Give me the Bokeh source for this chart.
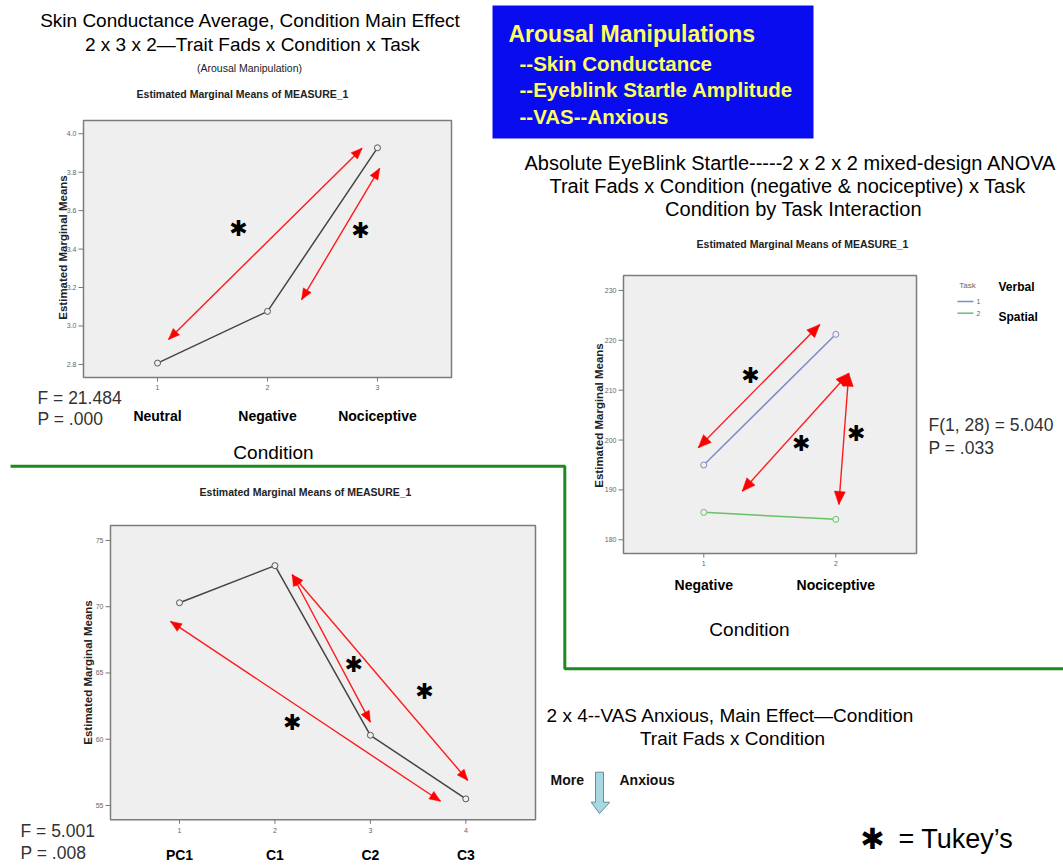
import math
from bokeh.plotting import figure
from bokeh.models import Range1d
from bokeh.core.properties import value
from bokeh.embed import file_html
from bokeh.resources import INLINE

# ---------------- data ----------------
sc_conditions = ["Neutral", "Negative", "Nociceptive"]
sc_x = [1, 2, 3]
sc_means = [2.807, 3.076, 3.927]
sc_yticks = [2.8, 3.0, 3.2, 3.4, 3.6, 3.8, 4.0]
sc_stats = ["F = 21.484", "P = .000"]

eb_conditions = ["Negative", "Nociceptive"]
eb_x = [1, 2]
eb_verbal = [195.0, 221.2]
eb_spatial = [185.5, 184.1]
eb_yticks = [180, 190, 200, 210, 220, 230]
eb_tasks = ["Verbal", "Spatial"]
eb_stats = ["F(1, 28) = 5.040", "P = .033"]

vas_conditions = ["PC1", "C1", "C2", "C3"]
vas_x = [1, 2, 3, 4]
vas_means = [70.3, 73.1, 60.3, 55.5]
vas_yticks = [55, 60, 65, 70, 75]
vas_stats = ["F = 5.001", "P = .008"]

# Tukey comparison arrows (data coordinates of each chart)
sc_arrows = [(1.10, 2.93, 2.86, 3.925), (2.31, 3.137, 3.02, 3.82)]
sc_stars = [(1.736, 3.508), (2.845, 3.497)]
eb_arrows = [(0.958, 198.45, 1.879, 223.17), (1.291, 189.75, 2.098, 213.4), (2.098, 213.4, 2.023, 187.08)]
eb_stars = [(1.354, 212.9), (1.738, 199.25), (2.155, 201.26)]
vas_arrows = [(0.906, 68.89, 3.735, 55.32), (2.181, 72.41, 3.0, 61.29), (2.181, 72.41, 4.021, 56.89)]
vas_stars = [(2.826, 65.64), (3.567, 63.63), (2.181, 61.24)]

SANS = value("Liberation Sans")
STAR = value("DejaVu Sans")

p = figure(width=1063, height=867, x_range=Range1d(0, 1063), y_range=Range1d(867, 0),
           output_backend="svg", toolbar_location=None, min_border=0,
           x_axis_location=None, y_axis_location=None)
p.grid.visible = False
p.outline_line_color = None
p.background_fill_color = "white"
p.border_fill_color = "white"


def spss_chart(frame, xr, yr, xticks, yticks, ylabels, tick_gap):
    l, r, b, t = frame
    sub = p.subplot(x_source=Range1d(*xr), y_source=Range1d(*yr),
                    x_target=Range1d(l, r), y_target=Range1d(b, t))
    ppx = (r - l) / (xr[1] - xr[0])
    ppy = (b - t) / (yr[1] - yr[0])
    sub.quad(left=[xr[0]], right=[xr[1]], bottom=[yr[0]], top=[yr[1]],
             fill_color="#efefef", line_color="#7c7c7c", line_width=1.5)
    n = len(yticks)
    sub.segment(x0=[xr[0] - 5 / ppx] * n, y0=yticks, x1=[xr[0]] * n, y1=yticks,
                line_color="#777", line_width=1)
    sub.text(x=[xr[0]] * n, y=yticks, text=ylabels, x_offset=-7,
             text_align="right", text_baseline="middle", text_font=SANS,
             text_font_size="7px", text_color="#666")
    m = len(xticks)
    sub.segment(x0=xticks, y0=[yr[0]] * m, x1=xticks, y1=[yr[0] - 4 / ppy] * m,
                line_color="#777", line_width=1)
    sub.text(x=xticks, y=[yr[0]] * m, text=[str(v) for v in xticks], y_offset=tick_gap,
             text_align="center", text_baseline="middle", text_font=SANS,
             text_font_size="7px", text_color="#666")
    return sub, ppx, ppy


def arrowhead(ppx, ppy, tip, tail, L, Wd):
    dx = (tip[0] - tail[0]) * ppx
    dy = (tip[1] - tail[1]) * ppy
    nrm = math.hypot(dx, dy)
    ux, uy = dx / nrm, dy / nrm
    px, py = -uy, ux
    bx, by = -ux * L, -uy * L
    xs = [tip[0], tip[0] + (bx + px * Wd) / ppx, tip[0] + (bx - px * Wd) / ppx]
    ys = [tip[1], tip[1] + (by + py * Wd) / ppy, tip[1] + (by - py * Wd) / ppy]
    return xs, ys


def tukey(sub, ppx, ppy, arrows, stars, L=11, Wd=4.5, star_size="22px"):
    hx, hy = [], []
    for (x0, y0, x1, y1) in arrows:
        sub.segment(x0=[x0], y0=[y0], x1=[x1], y1=[y1], line_color="#ff1a1a", line_width=1.4)
        for tip, tail in (((x0, y0), (x1, y1)), ((x1, y1), (x0, y0))):
            xs, ys = arrowhead(ppx, ppy, tip, tail, L, Wd)
            hx.append(xs)
            hy.append(ys)
    sub.patches(xs=hx, ys=hy, fill_color="#ff0000", line_color="#ff0000", line_width=0.5)
    sub.text(x=[s[0] for s in stars], y=[s[1] for s in stars], text=["✱"] * len(stars),
             text_align="center", text_baseline="middle", text_font=STAR,
             text_font_size=star_size, text_color="black")


def fmt1(v):
    return f"{v:.1f}"


EMM = "Estimated Marginal Means of MEASURE_1"
YLAB = "Estimated Marginal Means"

# ---------------- titles (top left) ----------------
p.text(x=[250], y=[20], text=["Skin Conductance Average, Condition Main Effect"], text_align="center",
       text_baseline="middle", text_font=SANS, text_font_size="19px", text_color="black")
p.text(x=[252], y=[44], text=["2 x 3 x 2\u2014Trait Fads x Condition x Task"], text_align="center",
       text_baseline="middle", text_font=SANS, text_font_size="19px", text_color="black")
p.text(x=[249], y=[67], text=["(Arousal Manipulation)"], text_align="center",
       text_baseline="middle", text_font=SANS, text_font_size="10.5px", text_color="#222")

# ---------------- chart 1: skin conductance ----------------
s1, px1, py1 = spss_chart((83, 451, 377, 120), (0.327, 3.673), (2.732, 4.069), sc_x, sc_yticks,
                          [fmt1(v) for v in sc_yticks], 10)
s1.line(sc_x, sc_means, line_color="#444", line_width=1.5)
s1.scatter(sc_x, sc_means, marker="circle", size=6, fill_color="#efefef", line_color="#555")
tukey(s1, px1, py1, sc_arrows, sc_stars)
s1.text(x=sc_x, y=[2.732] * 3, text=sc_conditions, y_offset=38, text_align="center", text_baseline="middle",
        text_font=SANS, text_font_style="bold", text_font_size="14px", text_color="black")
p.text(x=[242], y=[93], text=[EMM], text_align="center",
       text_baseline="middle", text_font=SANS, text_font_style="bold", text_font_size="10.5px", text_color="#222")
p.text(x=[62], y=[247], text=[YLAB], angle=math.pi / 2, text_align="center",
       text_baseline="middle", text_font=SANS, text_font_style="bold", text_font_size="11.5px", text_color="#222")
p.text(x=[273], y=[452], text=["Condition"], text_align="center", text_baseline="middle",
       text_font=SANS, text_font_size="19px", text_color="black")
p.text(x=[37, 37], y=[397, 418], text=sc_stats, text_align="left", text_baseline="middle",
       text_font=SANS, text_font_size="17.5px", text_color="#333")

# ---------------- blue box ----------------
p.quad(left=[492], right=[813], bottom=[138], top=[5], fill_color="#0a0cf0", line_color=None)
p.text(x=[508], y=[33], text=["Arousal Manipulations"], text_align="left", text_baseline="middle",
       text_font=SANS, text_font_style="bold", text_font_size="23px", text_color="#ffff5c")
p.text(x=[519, 519, 519], y=[63, 89, 116],
       text=["--Skin Conductance", "--Eyeblink Startle Amplitude", "--VAS--Anxious"],
       text_align="left", text_baseline="middle", text_font=SANS, text_font_style="bold",
       text_font_size="20.5px", text_color="#ffff5c")

# ---------------- chart 2: eyeblink startle ----------------
p.text(x=[790, 787, 793], y=[162, 185, 208],
       text=["Absolute EyeBlink Startle-----2 x 2 x 2 mixed-design ANOVA",
             "Trait Fads x Condition (negative & nociceptive) x Task",
             "Condition by Task Interaction"],
       text_align="center", text_baseline="middle", text_font=SANS, text_font_size="20px", text_color="black")
s2, px2, py2 = spss_chart((623, 916, 553, 275), (0.392, 2.611), (177.25, 233.0), eb_x, eb_yticks,
                          [str(v) for v in eb_yticks], 10)
s2.line(eb_x, eb_verbal, line_color="#7b8dc8", line_width=1.5)
s2.scatter(eb_x, eb_verbal, marker="circle", size=6, fill_color="#efefef", line_color="#7b8dc8")
s2.line(eb_x, eb_spatial, line_color="#66c266", line_width=1.5)
s2.scatter(eb_x, eb_spatial, marker="circle", size=6, fill_color="#efefef", line_color="#66c266")
tukey(s2, px2, py2, eb_arrows, eb_stars, L=13, Wd=5.5)
s2.text(x=eb_x, y=[177.25] * 2, text=eb_conditions, y_offset=31, text_align="center", text_baseline="middle",
        text_font=SANS, text_font_style="bold", text_font_size="14px", text_color="black")
p.text(x=[802], y=[243], text=[EMM], text_align="center",
       text_baseline="middle", text_font=SANS, text_font_style="bold", text_font_size="10.5px", text_color="#222")
p.text(x=[598], y=[415], text=[YLAB], angle=math.pi / 2, text_align="center",
       text_baseline="middle", text_font=SANS, text_font_style="bold", text_font_size="11.5px", text_color="#222")
p.text(x=[749], y=[629], text=["Condition"], text_align="center", text_baseline="middle",
       text_font=SANS, text_font_size="19px", text_color="black")
p.text(x=[928, 928], y=[424, 447], text=eb_stats, text_align="left", text_baseline="middle",
       text_font=SANS, text_font_size="17.5px", text_color="#333")
# legend
p.text(x=[967], y=[285], text=["Task"], text_align="center", text_baseline="middle",
       text_font=SANS, text_font_size="8px", text_color="#666")
p.segment(x0=[957, 957], y0=[301, 312.7], x1=[973, 973], y1=[301, 312.7],
          line_color=["#7b8dc8", "#66c266"], line_width=1.5)
p.text(x=[976, 976], y=[301, 312.7], text=["1", "2"], text_align="left", text_baseline="middle",
       text_font=SANS, text_font_size="7px", text_color="#666")
p.text(x=[998, 998], y=[286, 316], text=eb_tasks, text_align="left", text_baseline="middle",
       text_font=SANS, text_font_style="bold", text_font_size="12px", text_color="black")

# ---------------- separator ----------------
p.line([10, 564.3, 564.3, 1063], [465.7, 465.7, 668.3, 668.3], line_color="#1e8a1e", line_width=3)

# ---------------- chart 3: VAS anxious ----------------
s3, px3, py3 = spss_chart((110, 535, 819.3, 525), (0.277, 4.73), (53.92, 76.13), vas_x, vas_yticks,
                          [str(v) for v in vas_yticks], 11)
s3.line(vas_x, vas_means, line_color="#444", line_width=1.5)
s3.scatter(vas_x, vas_means, marker="circle", size=6, fill_color="#efefef", line_color="#555")
tukey(s3, px3, py3, vas_arrows, vas_stars)
s3.text(x=vas_x, y=[53.92] * 4, text=vas_conditions, y_offset=35, text_align="center", text_baseline="middle",
        text_font=SANS, text_font_style="bold", text_font_size="14px", text_color="black")
p.text(x=[305], y=[491], text=[EMM], text_align="center",
       text_baseline="middle", text_font=SANS, text_font_style="bold", text_font_size="10.5px", text_color="#222")
p.text(x=[87], y=[672], text=[YLAB], angle=math.pi / 2, text_align="center",
       text_baseline="middle", text_font=SANS, text_font_style="bold", text_font_size="11.5px", text_color="#222")
p.text(x=[20, 20], y=[830, 852], text=vas_stats, text_align="left", text_baseline="middle",
       text_font=SANS, text_font_size="17.5px", text_color="#333")

# ---------------- bottom right notes ----------------
p.text(x=[730, 732], y=[715, 738], text=["2 x 4--VAS Anxious, Main Effect\u2014Condition", "Trait Fads x Condition"],
       text_align="center", text_baseline="middle", text_font=SANS, text_font_size="19px", text_color="black")
p.text(x=[550, 619], y=[779, 779], text=["More", "Anxious"], text_align="left", text_baseline="middle",
       text_font=SANS, text_font_style="bold", text_font_size="14px", text_color="#111")
p.patch([595, 603, 603, 609.3, 599, 590.7, 595], [771.7, 771.7, 801.7, 801.7, 813, 801.7, 801.7],
        fill_color="#a9d8e2", line_color="#5f8f9a", line_width=1)
p.text(x=[872], y=[838], text=["✱"], text_align="center", text_baseline="middle",
       text_font=STAR, text_font_size="29px", text_color="black")
p.text(x=[898], y=[838], text=["= Tukey\u2019s"], text_align="left", text_baseline="middle",
       text_font=SANS, text_font_size="27px", text_color="black")

open("out.html", "w").write(file_html(p, INLINE))
